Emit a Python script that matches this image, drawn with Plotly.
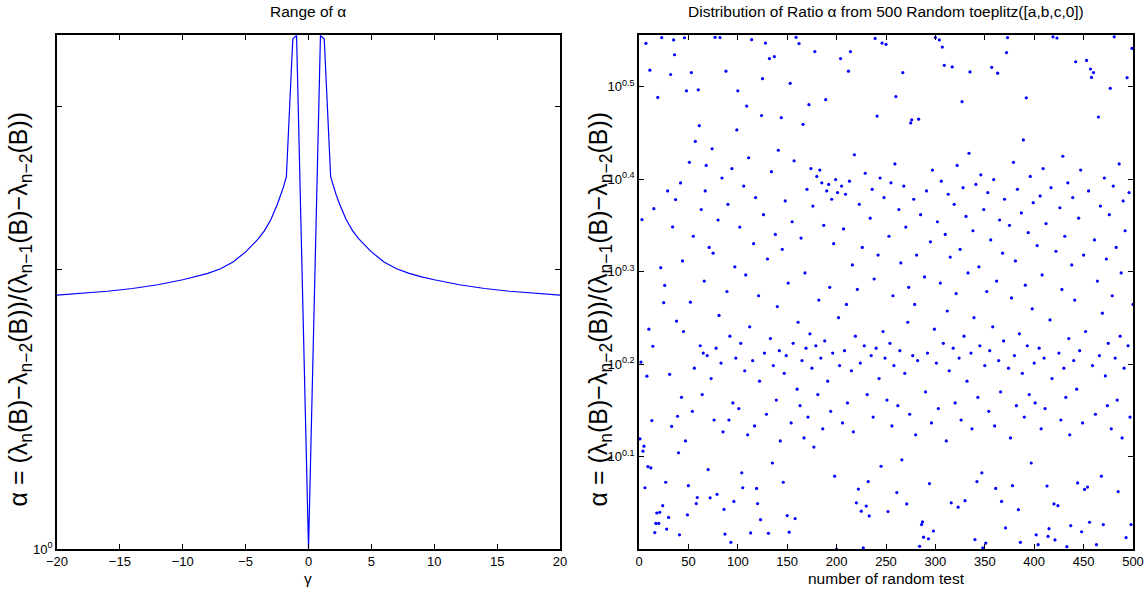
import plotly.graph_objects as go
from plotly.subplots import make_subplots

# left panel: range of alpha versus gamma
gamma = [-20, -18, -16, -14, -12, -10, -9, -8, -7, -6, -5, -4, -3.5, -3, -2.5, -2.2, -2.0, -1.76,
         -1.25, -0.95, 0,
         0.95, 1.25, 1.76, 2.0, 2.2, 2.5, 3, 3.5, 4, 5, 6, 7, 8, 9, 10, 12, 14, 16, 18, 20]
alpha_range = [1.879, 1.887, 1.897, 1.910, 1.928, 1.952, 1.966, 1.983, 2.006, 2.040, 2.092, 2.160,
               2.205, 2.266, 2.350, 2.410, 2.455, 2.521,
               3.550, 3.580, 1.0,
               3.580, 3.550, 2.521, 2.455, 2.410, 2.350, 2.266, 2.205, 2.160, 2.092, 2.040,
               2.006, 1.983, 1.966, 1.952, 1.928, 1.910, 1.897, 1.887, 1.879]

# right panel: ratio alpha for each of the 500 random tests
test_no = list(range(1, 501))
alpha_test = [
    1.317, 1.594, 2.272, 1.277, 1.293, 1.166, 3.523, 1.539, 1.229, 1.730,
    3.295, 1.225, 1.378, 1.658, 2.335, 1.043, 1.067, 1.095, 3.079, 1.067,
    1.097, 2.016, 3.574, 1.115, 1.848, 1.929, 1.182, 1.052, 2.440, 1.083,
    1.546, 3.260, 1.358, 2.231, 3.553, 3.424, 2.388, 1.765, 1.393, 1.272,
    1.037, 2.489, 1.46, 2.05, 1.72, 3.572, 1.31, 3.130, 1.090, 1.172,
    2.62, 1.85, 3.276, 1.41, 2.18, 1.57, 2.76, 1.121, 1.138, 3.138,
    2.87, 1.66, 2.33, 1.47, 1.63, 1.95, 2.44, 2.60, 1.62, 1.22,
    2.12, 1.137, 1.53, 2.71, 2.09, 1.38, 3.576, 1.65, 1.147, 2.27,
    1.79, 3.574, 1.59, 2.52, 1.34, 1.105, 1.039, 3.287, 1.90, 2.36,
    1.38, 1.70, 1.018, 2.58, 1.44, 1.127, 2.02, 1.61, 2.84, 3.130,
    1.42, 2.23, 1.67, 1.21, 1.166, 2.47, 1.56, 1.98, 3.014, 1.33,
    2.65, 1.74, 1.042, 3.555, 1.60, 2.14, 1.36, 2.40, 1.164, 1.121,
    1.88, 1.52, 1.077, 2.944, 3.226, 2.30, 1.63, 3.525, 1.40, 2.06,
    1.041, 3.392, 1.69, 2.56, 1.24, 1.58, 3.409, 2.19, 1.45, 1.83,
    2.70, 1.64, 1.31, 2.928, 2.11, 1.182, 1.55, 2.38, 1.62, 1.088,
    1.94, 1.044, 3.189, 1.37, 2.26, 1.67, 2.63, 1.080, 3.576, 1.49,
    1.76, 3.521, 1.43, 2.17, 1.60, 2.88, 1.32, 1.99, 1.65, 2.45,
    1.39, 3.024, 1.71, 2.58, 1.57, 2.35, 1.29, 3.451, 1.66, 2.53,
    1.47, 1.86, 2.57, 1.61, 2.49, 1.35, 2.24, 1.68, 3.062, 2.44,
    1.52, 2.48, 1.92, 1.41, 2.39, 1.63, 2.14, 1.20, 2.51, 1.000,
    2.43, 1.78, 1.58, 3.392, 2.47, 1.37, 2.22, 1.64, 2.42, 1.84,
    1.44, 3.287, 2.50, 3.451, 1.56, 2.03, 1.34, 2.67, 1.70, 1.123,
    1.91, 1.162, 2.36, 1.59, 1.100, 2.12, 1.004, 1.66, 2.55, 1.114,
    1.47, 1.184, 1.087, 2.28, 1.62, 2.45, 1.39, 1.96, 3.566, 1.65,
    2.940, 2.08, 1.53, 2.52, 1.23, 3.525, 1.72, 2.40, 1.61, 3.514,
    1.45, 1.099, 2.18, 1.67, 2.49, 1.36, 1.88, 1.58, 2.61, 3.086,
    1.152, 1.43, 2.33, 1.64, 2.04, 1.25, 3.276, 2.47, 1.55, 2.23,
    1.120, 1.76, 1.92, 1.40, 2.89, 2.913, 1.62, 2.39, 1.84, 1.33,
    2.08, 1.60, 2.917, 1.008, 2.30, 1.064, 1.071, 1.031, 1.97, 1.48,
    2.44, 1.63, 1.027, 1.178, 2.15, 1.37, 2.57, 1.047, 1.73, 3.574,
    1.59, 2.26, 1.42, 3.553, 1.94, 2.50, 3.490, 1.67, 3.335, 2.19,
    1.31, 1.81, 2.42, 1.56, 2.07, 1.123, 3.322, 1.65, 2.36, 1.44,
    1.89, 2.60, 1.111, 1.61, 2.11, 1.38, 3.047, 2.46, 1.70, 1.129,
    2.29, 1.52, 1.99, 2.68, 3.281, 1.63, 1.35, 2.21, 1.78, 1.025,
    2.48, 1.184, 1.46, 2.02, 1.66, 2.54, 1.21, 1.004, 2.33, 1.58,
    1.016, 1.90, 2.43, 1.41, 1.64, 2.16, 3.319, 1.74, 2.51, 1.36,
    1.164, 1.95, 3.271, 1.60, 2.27, 1.48, 1.127, 2.09, 1.68, 2.39,
    1.055, 3.443, 3.574, 1.57, 2.24, 1.32, 1.87, 1.172, 2.62, 1.62,
    2.05, 1.43, 2.45, 1.104, 1.71, 1.018, 2.31, 1.55, 2.77, 1.39,
    1.93, 3.076, 1.66, 2.20, 1.47, 2.53, 1.24, 1.82, 2.37, 1.59,
    1.44, 1.037, 2.13, 1.012, 1.65, 2.41, 1.35, 1.98, 2.58, 1.61,
    1.42, 2.25, 1.171, 1.033, 1.053, 1.77, 2.46, 1.53, 3.580, 1.120,
    1.024, 2.10, 3.570, 1.115, 1.63, 2.34, 1.38, 1.91, 2.66, 1.57,
    2.18, 1.46, 1.007, 2.49, 1.69, 1.33, 1.061, 2.03, 2.40, 1.60,
    1.86, 3.365, 1.49, 1.180, 2.28, 1.64, 2.57, 1.045, 1.37, 2.08,
    1.161, 1.72, 3.376, 1.168, 2.44, 1.070, 3.305, 3.236, 1.58, 3.276,
    2.16, 1.40, 1.012, 1.95, 2.933, 1.62, 2.35, 1.20, 1.80, 1.064,
    2.52, 1.54, 2.06, 1.43, 1.67, 2.30, 3.150, 1.35, 1.88, 2.47,
    3.580, 1.61, 2.12, 1.45, 1.155, 2.61, 1.70, 1.99, 1.32, 2.38,
    1.57, 2.21, 1.030, 3.234, 1.66, 2.43, 1.39, 1.064, 3.479, 1.84,
]

left_yticks = [1, 2, 3]
left_yticktext = ["10<sup>0</sup>", "", ""]
right_yticks = [10 ** 0.1, 10 ** 0.2, 10 ** 0.3, 10 ** 0.4, 10 ** 0.5]
right_yticktext = ["10<sup>0.1</sup>", "10<sup>0.2</sup>", "10<sup>0.3</sup>",
                   "10<sup>0.4</sup>", "10<sup>0.5</sup>"]

ylabel = ("α = (λ<sub>n</sub>(B)−λ<sub>n−2</sub>(B))/"
          "(λ<sub>n−1</sub>(B)−λ<sub>n−2</sub>(B))")

fig = make_subplots(rows=1, cols=2)

fig.add_trace(go.Scatter(x=gamma, y=alpha_range, mode="lines",
                         line=dict(color="#0000ff", width=1.2)), row=1, col=1)
fig.add_trace(go.Scatter(x=test_no, y=alpha_test, mode="markers",
                         marker=dict(color="#0000ff", size=3.2)), row=1, col=2)

axis_style = dict(showline=True, linecolor="black", linewidth=1.5, mirror="ticks",
                  ticks="inside", ticklen=5, tickcolor="black", showgrid=False,
                  zeroline=False, automargin=False, tickfont=dict(size=13, color="black"))

fig.update_xaxes(domain=[0, 0.4675], range=[-20, 20], tickmode="linear", tick0=-20,
                 dtick=5, row=1, col=1, **axis_style)
fig.update_xaxes(domain=[0.5409, 1], range=[0, 500], tickmode="linear", tick0=0,
                 dtick=50, row=1, col=2, **axis_style)
fig.update_yaxes(type="log", range=[0, 0.5545], tickvals=left_yticks,
                 ticktext=left_yticktext, row=1, col=1, **axis_style)
fig.update_yaxes(type="log", range=[0.0005, 0.5559], tickvals=right_yticks,
                 ticktext=right_yticktext, row=1, col=2, **axis_style)

ann = [
    dict(text="Range of α", x=0.2337, y=1.045),
    dict(text="Distribution of Ratio α from 500 Random toeplitz([a,b,c,0])", x=0.7705, y=1.045),
    dict(text="γ", x=0.2337, y=-0.058),
    dict(text="number of random test", x=0.7705, y=-0.058),
]
for a in ann:
    fig.add_annotation(xref="paper", yref="paper", showarrow=False, xanchor="center",
                       yanchor="middle", font=dict(size=15.5, color="black"), **a)

for xpix in (20, 600):
    fig.add_annotation(xref="paper", yref="paper", showarrow=False, textangle=-90,
                       x=(xpix - 57) / 1076, y=0.466, xanchor="center", yanchor="middle",
                       text=ylabel, font=dict(size=25, color="black"))

fig.update_layout(
    width=1147, height=599, autosize=False,
    margin=dict(l=57, r=14, t=35, b=50, autoexpand=False),
    paper_bgcolor="white", plot_bgcolor="white",
    showlegend=False,
    font=dict(family="Liberation Sans, Arial, sans-serif", color="black"),
)

# drop the page's default body margin so the figure sits at the window corner
fig.write_html("out.html",
               config={"displayModeBar": False, "responsive": False},
               post_script="document.body.style.margin='0';"
                           "document.body.style.overflow='hidden';")
